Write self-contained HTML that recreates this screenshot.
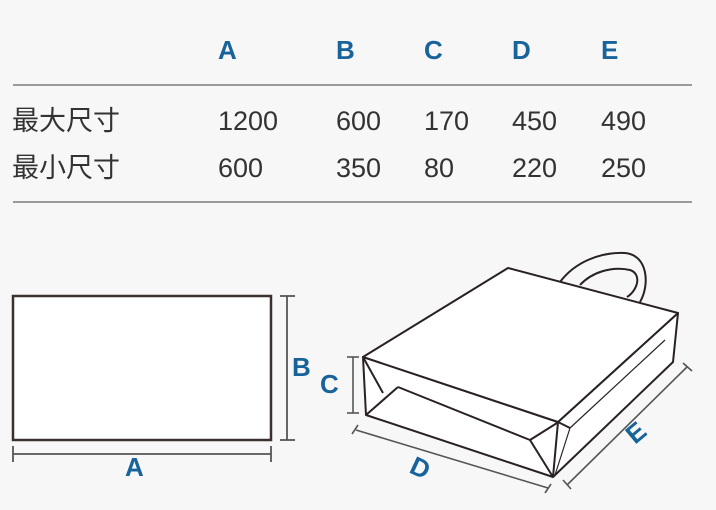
<!DOCTYPE html>
<html><head><meta charset="utf-8"><style>
html,body{margin:0;padding:0;background:#f7f7f7;}
svg{display:block;}
</style></head><body>
<svg width="716" height="510" viewBox="0 0 716 510" xmlns="http://www.w3.org/2000/svg">
<rect width="716" height="510" fill="#f7f7f7"/>
<g font-family="Liberation Sans, Arial, sans-serif" font-weight="bold" font-size="26" fill="#17639a">
<text x="218" y="59">A</text><text x="336" y="59">B</text><text x="424" y="59">C</text><text x="512" y="59">D</text><text x="601" y="59">E</text>
</g>
<line x1="13" y1="85" x2="692" y2="85" stroke="#9a9a9a" stroke-width="2"/>
<line x1="13" y1="202" x2="692" y2="202" stroke="#9a9a9a" stroke-width="2"/>
<g font-family="Liberation Sans, 'Noto Sans CJK SC', sans-serif" font-size="27" fill="#333">
<text x="12" y="130">最大尺寸</text><text x="218" y="130">1200</text><text x="336" y="130">600</text><text x="424" y="130">170</text><text x="512" y="130">450</text><text x="601" y="130">490</text>
<text x="12" y="177">最小尺寸</text><text x="218" y="177">600</text><text x="336" y="177">350</text><text x="424" y="177">80</text><text x="512" y="177">220</text><text x="601" y="177">250</text>
</g>
<rect x="13" y="296" width="258" height="144" fill="#fff" stroke="#3a3030" stroke-width="2.5"/>
<g stroke="#555" stroke-width="1.8" fill="none">
<line x1="287" y1="296" x2="287" y2="440"/><line x1="280" y1="296" x2="295" y2="296"/><line x1="280" y1="440" x2="295" y2="440"/>
<line x1="13" y1="454" x2="271" y2="454"/><line x1="13" y1="446" x2="13" y2="462"/><line x1="271" y1="446" x2="271" y2="462"/>
</g>
<g font-family="Liberation Sans, Arial, sans-serif" font-weight="bold" font-size="26" fill="#17639a">
<text x="292" y="376">B</text><text x="125" y="476">A</text><text x="320" y="393">C</text>
<text transform="translate(408,472) rotate(25)">D</text>
<text transform="translate(635,445) rotate(-40)">E</text>
</g>
<g stroke="#2a2222" stroke-width="2" fill="none" stroke-linejoin="round">
<path d="M560,282 C575,262 600,252 625,253 C648,255 650,285 640,302"/>
<path d="M580,285 C592,272 612,266 630,270 C642,274 638,290 627,297"/>
<polygon points="363,357 366,415 553,477 673,362 678,313 558,422" fill="#fff"/>
<polygon points="363,357 508,268 678,313 558,422" fill="#fff"/>
<line x1="366" y1="415" x2="398" y2="387"/>
<line x1="398" y1="387" x2="530" y2="440"/>
<line x1="530" y1="440" x2="553" y2="477"/>
<line x1="530" y1="440" x2="557" y2="423"/>
<line x1="363" y1="357" x2="383" y2="393"/>
<line x1="558" y1="422" x2="553" y2="477"/>
<line x1="558" y1="422" x2="570" y2="428"/>
<line x1="570" y1="428" x2="665" y2="340" stroke-width="1.2"/>
<line x1="570" y1="428" x2="555" y2="475" stroke-width="1.2"/>
</g>
<g stroke="#555" stroke-width="1.6" fill="none">
<line x1="353" y1="357" x2="353" y2="413"/><line x1="347" y1="357" x2="359" y2="357"/><line x1="347" y1="413" x2="359" y2="413"/>
<line x1="356" y1="430" x2="548" y2="488"/><line x1="352" y1="434" x2="358" y2="425"/><line x1="545" y1="493" x2="551" y2="484"/>
<line x1="567" y1="485" x2="687" y2="367"/><line x1="563" y1="480" x2="571" y2="489"/><line x1="683" y1="363" x2="692" y2="371"/>
</g>
</svg>
</body></html>
